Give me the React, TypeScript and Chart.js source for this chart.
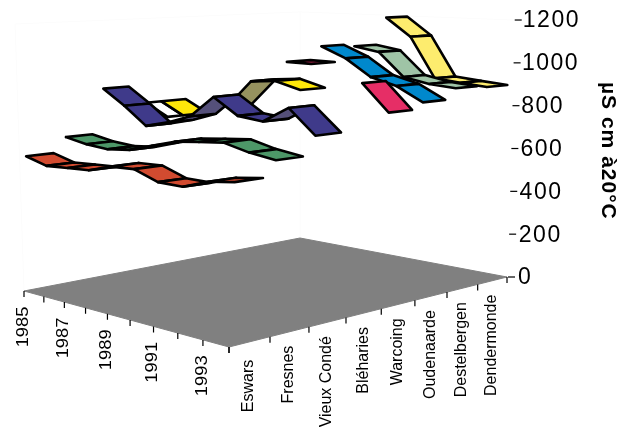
import React, { useEffect, useRef } from "react";
import { Chart, registerables } from "chart.js";

Chart.register(...registerables);

const years = ["1985", "", "1987", "", "1989", "", "1991", "", "1993", ""];
const stations = ["Eswars", "Fresnes", "Vieux Condé", "Bléharies", "Warcoing", "Oudenaarde", "Destelbergen", "Dendermonde"];
const valueTicks = [0, 200, 400, 600, 800, 1000, 1200];
const axisTitle = "µS cm à20°C";

const eswars = [602, 574, 580, 585, 616, 621, 583, 581, 617, 632];
const fresnes = [669, 650, 641, 652, 684, 715, 727, 738, 711, 695];
const vieuxConde = [878, 808, 727, 755, 794, 890, 819, 807, 875, 773];
const bleharies = [null, 813, 758, null, 823, 944, 955, 925, null, null];
const warcoing = [null, null, null, null, null, 1019, 1018, null, 950, 833];
const oudenaarde = [null, null, null, null, null, 1080, 1031, 954, 923, 861];
const destelbergen = [null, null, null, null, null, 1070, 1050, 941, 918, 908];
const dendermonde = [null, null, null, null, null, 1199, 1112, 921, 909, 899];
const seriesValues = [eswars, fresnes, vieuxConde, bleharies, warcoing, oudenaarde, destelbergen, dendermonde];

const topColors = ["#d24b30", "#4d9768", "#3f3a8a", "#ffe80a", "#e62e66", "#0088cc", "#9fc4a6", "#fdec6e"];
const underColors = ["#a83c26", "#3e7953", "#55507a", "#96925f", "#b82552", "#006da3", "#7f9d85", "#cabd58"];

// The blank strip beside the 1986 Bléharies segment.
const blankStrips = [{ station: 3, index: 1, extent: 0.42 / 8 }];

// Perspective projection of the (year, station, value) box onto the canvas.
const corners = { a: [24, 291], b: [229, 347], c: [507, 277], d: [300, 238] };
const G = -0.142;
const H = 0.181;
const VSCALE = 0.2225;
const LEAN = 2.7e-5;
const RIBBON_HALF = 0.34 / 8;

function project(u: number, v: number, value: number) {
  const { a, b, d } = corners;
  const w = 1 + G * u + H * v;
  const ax = b[0] - a[0] + G * b[0];
  const bx = d[0] - a[0] + H * d[0];
  const ay = b[1] - a[1] + G * b[1];
  const by = d[1] - a[1] + H * d[1];
  const x0 = (a[0] + ax * u + bx * v) / w;
  const y0 = (a[1] + ay * u + by * v) / w;
  return { x: x0 + (x0 - 300) * value * LEAN, y: y0 - (value * VSCALE) / w };
}

const lineSet = (pts: { x: number; y: number }[], color: string, width: number) => ({
  data: pts,
  showLine: true,
  fill: false,
  borderColor: color,
  borderWidth: width,
  pointRadius: 0,
  tension: 0,
});

const polySet = (poly: { x: number; y: number }[], color: string) => ({
  data: [...poly, poly[0]],
  showLine: true,
  fill: "shape",
  backgroundColor: color,
  borderColor: "#000",
  borderWidth: 2.6,
  borderJoinStyle: "round",
  borderCapStyle: "round",
  pointRadius: 0,
  tension: 0,
});

function buildDatasets() {
  const sets: any[] = [];
  const C = 1200;
  const yearStep = years.length - 1;
  // faint walls
  const at = project(0, 0, C), dt = project(0, 1, C), ct = project(1, 1, C);
  sets.push(lineSet([project(0, 0, 0), at, dt, ct], "#fcfcfc", 1));
  sets.push(lineSet([project(0, 1, 0), dt], "#fcfcfc", 1));
  // floor
  sets.push({
    data: [project(0, 0, 0), project(1, 0, 0), project(1, 1, 0), project(0, 1, 0), project(0, 0, 0)],
    showLine: true,
    fill: "shape",
    backgroundColor: "#808080",
    borderColor: "#808080",
    borderWidth: 1,
    pointRadius: 0,
    tension: 0,
  });
  // year ticks
  years.forEach((_, i) => {
    const p = project(i / yearStep, 0, 0);
    sets.push(lineSet([p, { x: p.x, y: p.y + 6 }], "#000", 1.2));
  });
  // station ticks
  stations.concat([""]).forEach((_, i) => {
    const p = project(1, i / stations.length, 0);
    sets.push(lineSet([p, { x: p.x, y: p.y + 6 }], "#000", 1.2));
  });
  // value ticks
  valueTicks.forEach((t) => {
    const p = project(1, 1, t);
    sets.push(lineSet([{ x: p.x + 1, y: p.y }, { x: p.x + 8, y: p.y }], "#000", 1.2));
  });
  // ribbons, far to near
  for (let s = stations.length - 1; s >= 0; s--) {
    const vals = seriesValues[s];
    const vc = (s + 0.5) / stations.length;
    const v0 = vc - RIBBON_HALF;
    const v1 = vc + RIBBON_HALF;
    const n = vals.length - 1;
    for (let i = 0; i < n; i++) {
      const p = vals[i];
      const q = vals[i + 1];
      if (p === null || q === null) continue;
      const strip = blankStrips.find((b) => b.station === s && b.index === i);
      if (strip) {
        sets.push(
          polySet(
            [
              project(i / n, v0 - strip.extent, p),
              project(i / n, v0, p),
              project((i + 1) / n, v0, q),
              project((i + 1) / n, v0 - strip.extent, q),
            ],
            "#ffffff"
          )
        );
      }
      const poly = [project(i / n, v0, p), project(i / n, v1, p), project((i + 1) / n, v1, q), project((i + 1) / n, v0, q)];
      let area = 0;
      poly.forEach((pt, k) => {
        const nx = poly[(k + 1) % 4];
        area += pt.x * nx.y - nx.x * pt.y;
      });
      sets.push(polySet(poly, area >= 0 ? topColors[s] : underColors[s]));
    }
  }
  sets.forEach((d, i) => {
    d.order = sets.length - i;
    d.clip = false;
  });
  return sets;
}

const labelsPlugin = {
  id: "boxLabels",
  afterDraw(chart: any) {
    const ctx = chart.ctx;
    const sx = chart.scales.x;
    const sy = chart.scales.y;
    const px = (p: { x: number; y: number }) => ({ x: sx.getPixelForValue(p.x), y: sy.getPixelForValue(p.y) });
    const yearStep = years.length - 1;
    ctx.save();
    ctx.fillStyle = "#000";
    const vertical = (text: string, x: number, top: number, stretch: number, font: string) => {
      ctx.save();
      ctx.font = font;
      ctx.translate(x, top);
      ctx.rotate(-Math.PI / 2);
      ctx.scale(stretch, 1);
      ctx.textAlign = "right";
      ctx.textBaseline = "middle";
      ctx.fillText(text, 0, 0);
      ctx.restore();
    };
    years.forEach((y, i) => {
      if (!y) return;
      const p = px(project(i / yearStep, 0, 0));
      vertical(y, p.x - 1, p.y + 15.5, 1.08, "17px 'Liberation Sans'");
    });
    stations.forEach((s, i) => {
      const p = px(project(1, (i + 0.5) / stations.length, 0));
      vertical(s, p.x - 1, p.y + (i === 0 ? 18 : 14), 0.94, "17px 'Liberation Sans'");
    });
    valueTicks.forEach((t) => {
      const p = px(project(1, 1, t));
      ctx.save();
      ctx.font = "23px 'Liberation Sans'";
      ctx.letterSpacing = "1.5px";
      ctx.textAlign = "left";
      ctx.textBaseline = "middle";
      ctx.fillText(String(t), 518 + t * 0.004, p.y + 1);
      ctx.restore();
    });
    ctx.save();
    ctx.font = "bold 21px 'Liberation Sans'";
    ctx.letterSpacing = "1px";
    ctx.translate(608, 82);
    ctx.rotate(Math.PI / 2);
    ctx.textAlign = "left";
    ctx.textBaseline = "middle";
    ctx.fillText(axisTitle, 0, 0);
    ctx.restore();
    ctx.restore();
  },
};

export default function App() {
  const ref = useRef<HTMLCanvasElement>(null);
  useEffect(() => {
    const chart = new Chart(ref.current as HTMLCanvasElement, {
      type: "scatter",
      data: { datasets: buildDatasets() },
      options: {
        animation: false,
        responsive: false,
        layout: { padding: 0 },
        plugins: { legend: { display: false }, tooltip: { enabled: false } },
        scales: {
          x: { type: "linear", min: 0, max: 632, display: false },
          y: { type: "linear", min: 0, max: 427, reverse: true, display: false },
        },
      },
      plugins: [labelsPlugin],
    } as any);
    return () => chart.destroy();
  }, []);
  return (
    <div style={{ position: "absolute", left: 0, top: 0, width: 632, height: 427, overflow: "hidden", background: "#fff" }}>
      <canvas ref={ref} width={632} height={427} style={{ display: "block" }} />
    </div>
  );
}
